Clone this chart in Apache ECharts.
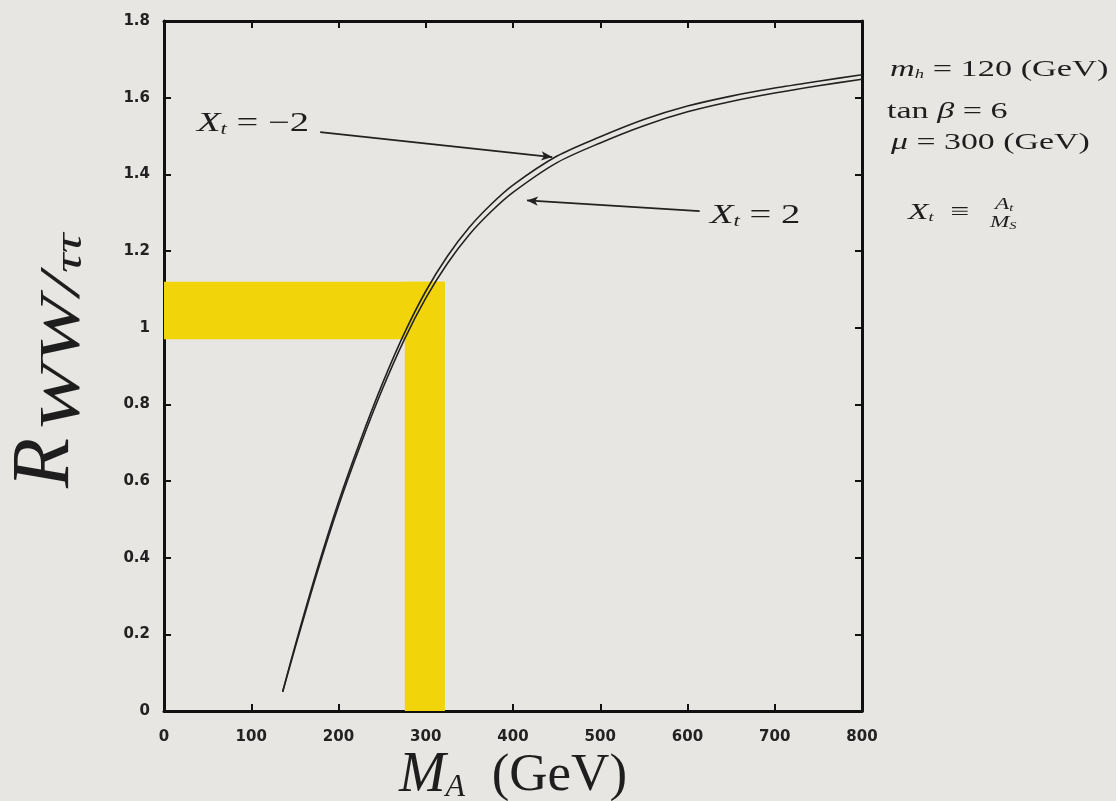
<!DOCTYPE html>
<html><head><meta charset="utf-8">
<script src="https://cdn.jsdelivr.net/npm/echarts@6/dist/echarts.min.js"></script>
<style>html,body{margin:0;padding:0;background:#e8e6e2;}#c{width:1116px;height:801px;}</style>
</head><body><div id="c"></div>
<script>
// Data
const xTicks = [0,100,200,300,400,500,600,700,800];
const yTicks = [0,0.2,0.4,0.6,0.8,1,1.2,1.4,1.6,1.8];
const massA = [136,150,175,200,225,250,275,300,325,350,375,400,450,500,550,600,650,700,750,800];
const ratioXtMinus2 = [0.05,0.168,0.365,0.545,0.705,0.852,0.983,1.095,1.187,1.262,1.322,1.372,1.447,1.498,1.543,1.578,1.604,1.625,1.643,1.66];
const ratioXtPlus2  = [0.05,0.163,0.357,0.535,0.693,0.838,0.967,1.077,1.168,1.243,1.303,1.353,1.430,1.482,1.527,1.563,1.590,1.612,1.631,1.648];
const hBand = {x0:0, x1:322, y0:0.97, y1:1.12};
const vBand = {x0:276, x1:322, y0:0, y1:1.12};
const arrowMinus2 = {from:[179,1.51], to:[445,1.445]};
const arrowPlus2 = {from:[614,1.304], to:[416,1.332]};

const chart = echarts.init(document.getElementById('c'));
const serif = '"Liberation Serif","DejaVu Serif",serif';
const ink = '#1e1e1e';
const pairs = (xs, ys) => xs.map((x,i)=>[x, ys[i]]);
const axisLineStyle = {onZero:false, lineStyle:{color:'#111', width:3}};
const tickStyle = {show:true, inside:true, length:7, lineStyle:{color:'#111', width:2}};
const lblStyle = {fontFamily:'"DejaVu Sans",sans-serif', fontWeight:'bold', fontSize:15, color:'#222'};
const it = (fs, extra) => Object.assign({fontFamily:serif, fontStyle:'italic', fontSize:fs, fill:ink}, extra||{});
const rm = (fs, extra) => Object.assign({fontFamily:serif, fontSize:fs, fill:ink}, extra||{});

chart.setOption({
  backgroundColor:'#e8e6e2',
  animation:false,
  grid:{left:164, right:254, top:21, bottom:90},
  xAxis:[
    {type:'value', min:0, max:800, interval:100, position:'bottom',
     axisLine:axisLineStyle, axisTick:tickStyle, splitLine:{show:false},
     axisLabel:Object.assign({margin:19}, lblStyle)},
    {type:'value', min:0, max:800, interval:100, position:'top',
     axisLine:axisLineStyle, axisTick:tickStyle, splitLine:{show:false}, axisLabel:{show:false}}
  ],
  yAxis:[
    {type:'value', min:0, max:1.8, interval:0.2, position:'left',
     axisLine:axisLineStyle, axisTick:tickStyle, splitLine:{show:false},
     axisLabel:Object.assign({margin:14, formatter:v=>String(+v.toFixed(1))}, lblStyle)},
    {type:'value', min:0, max:1.8, interval:0.2, position:'right',
     axisLine:axisLineStyle, axisTick:tickStyle, splitLine:{show:false}, axisLabel:{show:false}}
  ],
  series:[
    {type:'line', name:'bands', data:[], silent:true,
     markArea:{silent:true, itemStyle:{color:'#f1d50a'},
       data:[
         [{coord:[hBand.x0,hBand.y0]},{coord:[hBand.x1,hBand.y1]}],
         [{coord:[vBand.x0,vBand.y0]},{coord:[vBand.x1,vBand.y1]}]
       ]}},
    {type:'line', name:'Xt=-2', data:pairs(massA, ratioXtMinus2), smooth:0.3, showSymbol:false,
     lineStyle:{color:'#222', width:1.6}, z:3},
    {type:'line', name:'Xt=2', data:pairs(massA, ratioXtPlus2), smooth:0.3, showSymbol:false,
     lineStyle:{color:'#222', width:1.6}, z:3},
    {type:'line', name:'arrows', data:[], silent:true, z:4,
     markLine:{silent:true, symbol:['none','arrow'], symbolSize:[7,11], label:{show:false},
       lineStyle:{color:'#222', width:1.8, type:'solid'},
       data:[
         [{coord:arrowMinus2.from},{coord:arrowMinus2.to}],
         [{coord:arrowPlus2.from},{coord:arrowPlus2.to}]
       ]}}
  ],
  graphic:[
    {type:'text', x:197, y:124, scaleX:1.43, style:{text:'{i|X}{s|t}{n| = −2}', verticalAlign:'middle', rich:{
      i:it(27), s:it(16, {padding:[12,0,0,0]}), n:rm(27)}}},
    {type:'text', x:710, y:216, scaleX:1.43, style:{text:'{i|X}{s|t}{n| = 2}', verticalAlign:'middle', rich:{
      i:it(27), s:it(16, {padding:[12,0,0,0]}), n:rm(27)}}},
    {type:'text', x:890, y:70, scaleX:1.43, style:{text:'{i|m}{s|h}{n| = 120 (GeV)}', verticalAlign:'middle', rich:{
      i:it(24), s:it(13, {padding:[10,0,0,0]}), n:rm(24)}}},
    {type:'text', x:887, y:112, scaleX:1.42, style:{text:'{n|tan }{i|β}{n| = 6}', verticalAlign:'middle', rich:{
      i:it(24), n:rm(24)}}},
    {type:'text', x:891, y:143, scaleX:1.41, style:{text:'{i|μ}{n| = 300 (GeV)}', verticalAlign:'middle', rich:{
      i:it(24), n:rm(24)}}},
    {type:'text', x:908, y:213, scaleX:1.4, style:{text:'{i|X}{s|t}{n|  ≡}', verticalAlign:'middle', rich:{
      i:it(24), s:it(13, {padding:[10,0,0,0]}), n:rm(24)}}},
    {type:'text', x:995, y:205, scaleX:1.45, style:{text:'{i|A}{s|t}', verticalAlign:'middle', rich:{
      i:it(16), s:it(10, {padding:[6,0,0,0]})}}},
    {type:'text', x:990, y:223, scaleX:1.45, style:{text:'{i|M}{s|S}', verticalAlign:'middle', rich:{
      i:it(16), s:it(10, {padding:[6,0,0,0]})}}},
    {type:'text', x:46, y:488, rotation:Math.PI/2, style:{text:'R', align:'left', verticalAlign:'middle',
      fontFamily:serif, fontStyle:'italic', fontSize:82, fill:ink}},
    {type:'text', x:64, y:432, rotation:Math.PI/2, scaleX:1.46, style:{text:'{w|WW/}{t|ττ}', align:'left', verticalAlign:'middle',
      rich:{w:it(56), t:it(38, {padding:[14,0,0,0]})}}},
    {type:'text', x:513, y:776, style:{text:'{i|M}{s|A}{n|  (GeV)}', align:'center', verticalAlign:'middle', rich:{
      i:it(56), s:it(32, {padding:[24,0,0,0]}), n:rm(53)}}}
  ]
});
</script></body></html>
